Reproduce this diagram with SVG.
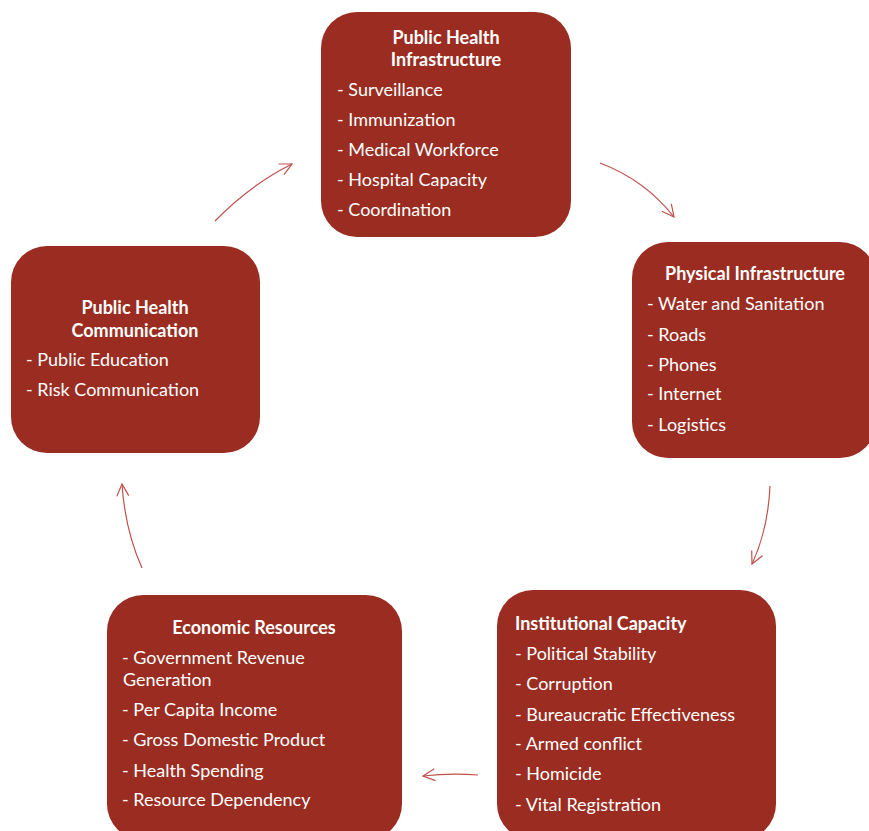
<svg xmlns="http://www.w3.org/2000/svg" width="869" height="831" viewBox="0 0 869 831">
<defs>
<style>
.box{fill:#9A2C21;}
.t{font-family:Lato,"Open Sans",sans-serif;font-size:18px;fill:#ffffff;}
.b{font-weight:bold;}
.c{text-anchor:middle;}
.conn{fill:none;stroke:#C0504D;stroke-width:1.2;}
</style>
<marker id="ah" viewBox="0 0 14 14" refX="13" refY="7" markerWidth="14" markerHeight="14" markerUnits="userSpaceOnUse" orient="auto">
<path d="M1,1 L13,7 L1,13" fill="none" stroke="#C0504D" stroke-width="1.2"/>
</marker>
</defs>
<rect width="869" height="831" fill="#ffffff"/>
<g id="connectors">
<path class="conn" d="M215,221 Q250,185 292,164" marker-end="url(#ah)"/>
<path class="conn" d="M600,163 Q645,180 674,217" marker-end="url(#ah)"/>
<path class="conn" d="M770,486 Q768,530 752,564" marker-end="url(#ah)"/>
<path class="conn" d="M478,775 Q450,773 423,776" marker-end="url(#ah)"/>
<path class="conn" d="M142,568 Q125,530 122,484" marker-end="url(#ah)"/>
</g>
<g id="public-health-infrastructure">
<rect class="box" x="321" y="12" width="250" height="225" rx="36"/>
<text class="t b c" x="446" y="44">Public Health</text>
<text class="t b c" x="446" y="66">Infrastructure</text>
<text class="t" x="337" y="96">- Surveillance</text>
<text class="t" x="337" y="126">- Immunization</text>
<text class="t" x="337" y="156">- Medical Workforce</text>
<text class="t" x="337" y="186">- Hospital Capacity</text>
<text class="t" x="337" y="216">- Coordination</text>
</g>
<g id="physical-infrastructure">
<rect class="box" x="632" y="242" width="244" height="216" rx="36"/>
<text class="t b c" x="755" y="280">Physical Infrastructure</text>
<text class="t" x="647" y="310">- Water and Sanitation</text>
<text class="t" x="647" y="341">- Roads</text>
<text class="t" x="647" y="371">- Phones</text>
<text class="t" x="647" y="400">- Internet</text>
<text class="t" x="647" y="431">- Logistics</text>
</g>
<g id="institutional-capacity">
<rect class="box" x="497" y="590" width="279" height="250" rx="36"/>
<text class="t b" x="515" y="630">Institutional Capacity</text>
<text class="t" x="515" y="660">- Political Stability</text>
<text class="t" x="515" y="690">- Corruption</text>
<text class="t" x="515" y="721">- Bureaucratic Effectiveness</text>
<text class="t" x="515" y="750">- Armed conflict</text>
<text class="t" x="515" y="780">- Homicide</text>
<text class="t" x="515" y="811">- Vital Registration</text>
</g>
<g id="economic-resources">
<rect class="box" x="107" y="595" width="295" height="245" rx="36"/>
<text class="t b c" x="254" y="634">Economic Resources</text>
<text class="t" x="122" y="664">- Government Revenue</text>
<text class="t" x="123" y="686">Generation</text>
<text class="t" x="122" y="716">- Per Capita Income</text>
<text class="t" x="122" y="746">- Gross Domestic Product</text>
<text class="t" x="122" y="777">- Health Spending</text>
<text class="t" x="122" y="806">- Resource Dependency</text>
</g>
<g id="public-health-communication">
<rect class="box" x="11" y="246" width="249" height="207" rx="36"/>
<text class="t b c" x="135" y="314">Public Health</text>
<text class="t b c" x="135" y="337">Communication</text>
<text class="t" x="26" y="366">- Public Education</text>
<text class="t" x="26" y="396">- Risk Communication</text>
</g>
</svg>
